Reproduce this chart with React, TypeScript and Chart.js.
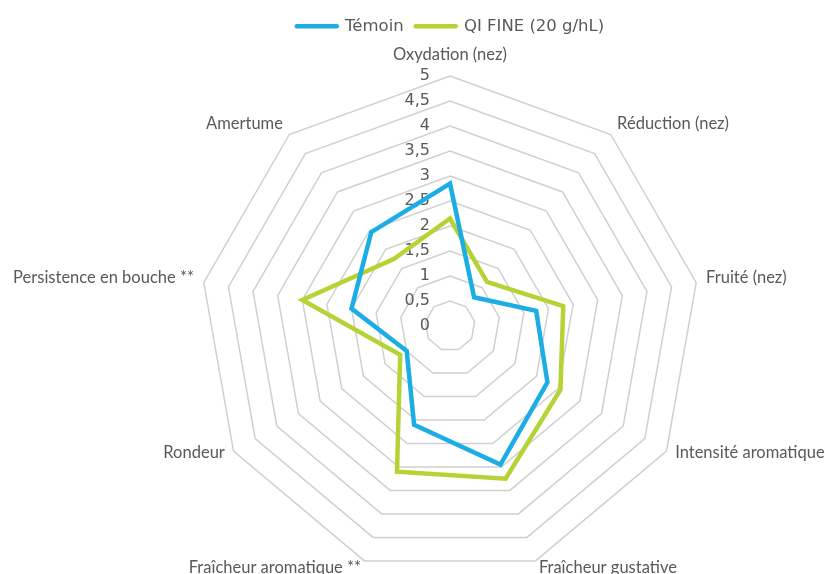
import React, { useEffect, useRef } from 'react';
import { Chart, registerables } from 'chart.js';

Chart.register(...registerables);

const categories = [
  'Oxydation (nez)',
  'Réduction (nez)',
  'Fruité (nez)',
  'Intensité aromatique',
  'Fraîcheur gustative',
  'Fraîcheur aromatique **',
  'Rondeur',
  'Persistence en bouche **',
  'Amertume',
];
const seriesNames = ['Témoin', 'QI FINE (20 g/hL)'];
const temoinValues = [2.85, 0.75, 1.75, 2.25, 2.95, 2.1, 1.0, 2.0, 2.45];
const qiFineValues = [2.15, 1.15, 2.3, 2.55, 3.25, 3.1, 1.15, 3.0, 1.75];
const scaleMin = 0;
const scaleMax = 5;
const scaleStep = 0.5;

const TEXT = '#595959';
const BLUE = '#1CADE4';
const GREEN = '#B5D334';

const labelsPlugin = {
  id: 'customRadarLabels',
  beforeDatasetsDraw(chart: any) {
    const scale = chart.scales.r;
    const ctx = chart.ctx;
    ctx.save();
    ctx.font = '16px "DejaVu Sans"';
    ctx.fillStyle = TEXT;
    ctx.textAlign = 'right';
    ctx.textBaseline = 'middle';
    scale.ticks.forEach((t: any) => {
      const d = scale.getDistanceFromCenterForValue(t.value);
      ctx.fillText(t.label, scale.xCenter - 20, scale.yCenter - d);
    });
    ctx.restore();
  },
  afterDraw(chart: any) {
    const scale = chart.scales.r;
    const ctx = chart.ctx;
    ctx.save();
    ctx.font = '16.5px Lato';
    ctx.fillStyle = TEXT;
    ctx.textBaseline = 'middle';
    (chart.data.labels as string[]).forEach((lbl, i) => {
      const p = scale.getPointPosition(i, scale.drawingArea + 10);
      const dx = p.x - scale.xCenter;
      if (Math.abs(dx) < 1) {
        ctx.textAlign = 'center';
        ctx.fillText(lbl, p.x, p.y - 11);
      } else if (dx > 0) {
        ctx.textAlign = 'left';
        ctx.fillText(lbl, p.x, p.y - 3);
      } else {
        ctx.textAlign = 'right';
        ctx.fillText(lbl, p.x, p.y - 3);
      }
    });
    ctx.restore();
  },
};

export default function App() {
  const ref = useRef<HTMLCanvasElement>(null);
  useEffect(() => {
    document.body.style.margin = '0';
    const colors = [BLUE, GREEN];
    const chart = new Chart(ref.current!, {
      type: 'radar',
      data: {
        labels: categories,
        datasets: [
          {
            label: seriesNames[0],
            data: temoinValues,
            borderColor: BLUE,
            backgroundColor: BLUE,
            borderWidth: 4.5,
            borderJoinStyle: 'miter',
            pointRadius: 0,
            fill: false,
            clip: false,
          } as any,
          {
            label: seriesNames[1],
            data: qiFineValues,
            borderColor: GREEN,
            backgroundColor: GREEN,
            borderWidth: 4.5,
            borderJoinStyle: 'miter',
            pointRadius: 0,
            fill: false,
            clip: false,
          } as any,
        ],
      },
      options: {
        animation: false,
        responsive: false,
        layout: { padding: { top: 6, left: 76 } },
        plugins: {
          tooltip: { enabled: false },
          legend: {
            position: 'top',
            labels: {
              color: TEXT,
              font: { family: '"DejaVu Sans"', size: 16.5 },
              usePointStyle: true,
              pointStyleWidth: 40,
              boxHeight: 16,
              padding: 12,
              generateLabels: (c: any) =>
                c.data.datasets.map((ds: any, i: number) => ({
                  text: ds.label,
                  fillStyle: colors[i],
                  strokeStyle: colors[i],
                  fontColor: TEXT,
                  lineWidth: 4.5,
                  lineCap: 'round',
                  pointStyle: 'line',
                  hidden: false,
                  datasetIndex: i,
                })),
            },
          },
        },
        scales: {
          r: {
            min: scaleMin,
            max: scaleMax,
            ticks: {
              stepSize: scaleStep,
              display: false,
              callback: (v: any) => String(v).replace('.', ','),
            },
            grid: { color: '#D0D0D0', lineWidth: 1.5, circular: false },
            angleLines: { display: false },
            pointLabels: { display: false },
            afterFit: (s: any) => {
              s.xCenter = 450;
              s.yCenter = 326;
              s.drawingArea = 250;
            },
          } as any,
        },
      },
      plugins: [labelsPlugin],
    });
    return () => chart.destroy();
  }, []);
  return (
    <div style={{ position: 'fixed', left: 0, top: 0, width: 825, height: 574, background: '#fff' }}>
      <canvas ref={ref} width={825} height={574} />
    </div>
  );
}
